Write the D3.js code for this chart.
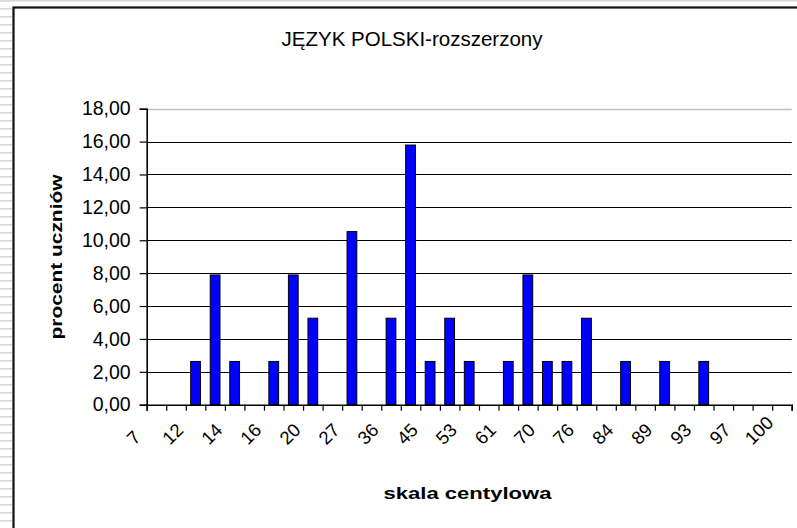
<!DOCTYPE html>
<html>
<head>
<meta charset="utf-8">
<script src="https://cdn.jsdelivr.net/npm/d3@7/dist/d3.min.js"></script>
<style>
  html, body { margin: 0; padding: 0; background: #fff; }
  svg { display: block; }
  text { font-family: "Liberation Sans", Arial, sans-serif; fill: #000; }
</style>
</head>
<body>
<svg id="chart" width="797" height="528"></svg>
<script>
// ---- data ----
const title = "JĘZYK POLSKI-rozszerzony";
const yTitle = "procent uczniów";
const xTitle = "skala centylowa";
// 33 categories; only every other one carries a visible label
const categoryIndex = d3.range(33);
const tickLabels = ["7", "12", "14", "16", "20", "27", "36", "45", "53", "61", "70", "76", "84", "89", "93", "97", "100"];
// percent of students per category (0 where no bar)
const values = [0, 0, 2.63, 7.89, 2.63, 0, 2.63, 7.89, 5.26, 0, 10.53, 0, 5.26, 15.79, 2.63, 5.26,
                2.63, 0, 2.63, 7.89, 2.63, 2.63, 5.26, 0, 2.63, 0, 2.63, 0, 2.63, 0, 0, 0, 0];
const yTicks = [0, 2, 4, 6, 8, 10, 12, 14, 16, 18];

// ---- layout ----
const svg = d3.select("#chart");
const W = 797, H = 528;
const plot = { left: 146.7, right: 791.7, top: 108.7, bottom: 404.7 };

// background stripes on the left + top grey line
const bg = svg.append("g");
bg.append("rect").attr("x", 0).attr("y", 0).attr("width", W).attr("height", 1.6).attr("fill", "#d9d9d9");
d3.range(0, H, 8).forEach(y => {
  bg.append("rect").attr("x", 0).attr("y", y).attr("width", 12).attr("height", 1.6).attr("fill", "#d9d9d9");
});
// chart frame
svg.append("rect").attr("x", 13.5).attr("y", 7.5).attr("width", W + 10).attr("height", H + 10)
  .attr("fill", "#fff").attr("stroke", "#111").attr("stroke-width", 2.2);

// scales
const x = d3.scaleBand().domain(categoryIndex).range([plot.left, plot.right])
  .paddingInner(0.5).paddingOuter(0.25);
const step = x.step();
const y = d3.scaleLinear().domain([0, 18]).range([plot.bottom, plot.top]);
const fmt = v => d3.format(".2f")(v).replace(".", ",");

// gridlines
const grid = svg.append("g");
yTicks.filter(t => t > 0).forEach(t => {
  grid.append("line")
    .attr("x1", plot.left).attr("x2", plot.right)
    .attr("y1", Math.round(y(t)) + 0.5).attr("y2", Math.round(y(t)) + 0.5)
    .attr("stroke", t === 18 ? "#c0c0c0" : "#000").attr("stroke-width", t === 18 ? 1.5 : 1.1);
});

// bars
svg.append("g").selectAll("rect").data(values.map((v, i) => ({ i, v })).filter(d => d.v > 0))
  .join("rect")
  .attr("x", d => x(d.i))
  .attr("y", d => y(d.v))
  .attr("width", x.bandwidth())
  .attr("height", d => y(0) - y(d.v))
  .attr("fill", "#0000ff")
  .attr("stroke", "#000")
  .attr("stroke-width", 1);

// y axis
const yAxis = d3.axisLeft(y).tickValues(yTicks).tickSize(7).tickFormat(fmt);
const gy = svg.append("g").attr("transform", `translate(${plot.left},0)`).call(yAxis);
gy.select(".domain").attr("stroke", "#000").attr("stroke-width", 1.6);
gy.selectAll(".tick line").attr("stroke", "#000").attr("stroke-width", 1.2);
gy.selectAll(".tick text").attr("x", -16).attr("font-size", 19.5)
  .attr("font-family", "'Liberation Sans', Arial, sans-serif").attr("fill", "#000");

// x axis: ticks on category boundaries
const xb = d3.scaleLinear().domain([0, 33]).range([plot.left, plot.right]);
const xAxis = d3.axisBottom(xb).tickValues(d3.range(34)).tickSize(6).tickFormat("");
const gx = svg.append("g").attr("transform", `translate(0,${plot.bottom})`).call(xAxis);
gx.select(".domain").attr("stroke", "#000").attr("stroke-width", 1.6);
gx.selectAll(".tick line").attr("stroke", "#000").attr("stroke-width", 1.2);

// rotated category labels (every other category)
const fs = 18.5;
const lab = svg.append("g");
tickLabels.forEach((t, k) => {
  const ci = k * 2;
  const cx = x(ci) + x.bandwidth() / 2 - 23;
  const tx = lab.append("text").text(t).attr("font-size", fs)
    .attr("text-anchor", "middle").attr("dy", "0.35em");
  const w = tx.node().getComputedTextLength();
  const h = fs * 0.72;
  const cy = 446 - 0.354 * (w + h);
  tx.attr("transform", `translate(${cx},${cy}) rotate(-45)`);
});

// titles
svg.append("text").text(title).attr("x", 412).attr("y", 46)
  .attr("text-anchor", "middle").attr("font-size", 20)
  .attr("textLength", 261).attr("lengthAdjust", "spacingAndGlyphs");
svg.append("text").text(yTitle)
  .attr("transform", "translate(62,257) rotate(-90)")
  .attr("text-anchor", "middle").attr("font-size", 17).attr("font-weight", "bold")
  .attr("textLength", 165).attr("lengthAdjust", "spacingAndGlyphs");
svg.append("text").text(xTitle).attr("x", 467.5).attr("y", 499)
  .attr("text-anchor", "middle").attr("font-size", 17).attr("font-weight", "bold")
  .attr("textLength", 168).attr("lengthAdjust", "spacingAndGlyphs");
</script>
</body>
</html>
